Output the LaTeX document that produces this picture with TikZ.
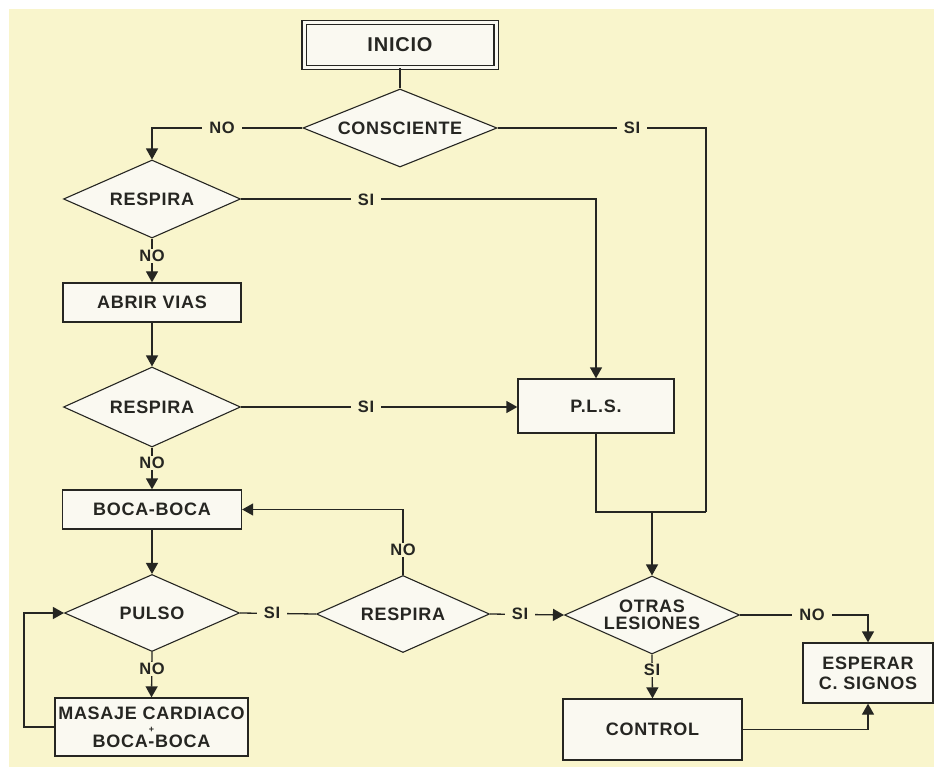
\documentclass[tikz,border=0pt]{standalone}
\usepackage{fontspec}
\setmainfont[LetterSpace=4]{Liberation Sans}
\usetikzlibrary{arrows.meta,shapes.geometric}
\definecolor{bg}{RGB}{249,245,204}
\definecolor{ink}{RGB}{38,38,34}
\definecolor{boxfill}{RGB}{250,249,241}
\begin{document}
\begin{tikzpicture}[x=1pt,y=-1pt,
  base/.style={draw=ink, line width=1.3pt, fill=boxfill, text=ink,
    font=\fontsize{18}{20}\selectfont\bfseries, inner sep=0pt, align=center},
  box/.style={base, rectangle},
  dia/.style={base, diamond, aspect=2.2, line width=1.1pt},
  con/.style={draw=ink, line width=1.3pt},
  arr/.style={con, -{Triangle[width=12pt,length=11pt]}},
  lab/.style={fill=bg, text=ink, font=\fontsize{16.5}{18}\selectfont\bfseries,
    inner xsep=7pt, inner ysep=1pt}]
\useasboundingbox (0,0) rectangle (934,767);
\fill[white] (0,0) rectangle (934,767);
\fill[bg] (9,9) rectangle (934,767);

% nodes
\node[box, double=boxfill, double distance=3pt, line width=1.1pt,
      minimum width=192pt, minimum height=45pt,
      font=\fontsize{20}{22}\selectfont\bfseries] (inicio) at (400,45) {INICIO};
\node[dia, minimum width=194pt, minimum height=78pt] (consc) at (400,128) {CONSCIENTE};
\node[dia, minimum width=177pt, minimum height=78pt] (resp1) at (152,199) {RESPIRA};
\node[box, minimum width=178pt, minimum height=39pt] (abrir) at (152,302.5) {ABRIR VIAS};
\node[dia, minimum width=177pt, minimum height=80pt] (resp2) at (152,407) {RESPIRA};
\node[box, minimum width=156pt, minimum height=54pt] (pls) at (596,406) {P.L.S.};
\node[box, minimum width=179pt, minimum height=39pt] (boca) at (152,509.5) {BOCA-BOCA};
\node[dia, minimum width=175pt, minimum height=77pt] (pulso) at (152,613) {PULSO};
\node[dia, minimum width=173pt, minimum height=77pt] (resp3) at (403,614) {RESPIRA};
\node[dia, minimum width=175pt, minimum height=78pt] (otras) at (652,615) {OTRAS\\[-3pt]LESIONES};
\node[box, minimum width=193pt, minimum height=58pt] (masaje) at (151.5,727) {MASAJE CARDIACO\\[-7pt]{\fontsize{9}{9}\selectfont +}\\[-5pt]BOCA-BOCA};
\node[box, minimum width=130pt, minimum height=60pt] (esperar) at (868,673) {ESPERAR\\C. SIGNOS};
\node[box, minimum width=179pt, minimum height=61pt] (control) at (652.5,729.5) {CONTROL};

% helper coordinates
\coordinate (rj) at (706,512);
\coordinate (mj) at (otras.north |- rj);
\coordinate (lp) at (24,727);

% connectors
\draw[con] (inicio.south) -- (consc.north);
\draw[arr] (consc.west) -| (resp1.north);
\draw[con] (consc.east) -| (rj);
\draw[con] (pls.south) |- (rj);
\draw[arr] (mj) -- (otras.north);
\draw[arr] (resp1.east) -| (pls.north);
\draw[arr] (resp1.south) -- (abrir.north);
\draw[arr] (abrir.south) -- (resp2.north);
\draw[arr] (resp2.east) -- (resp2.east -| pls.west);
\draw[arr] (resp2.south) -- (boca.north);
\draw[arr] (boca.south) -- (pulso.north);
\draw[arr] (pulso.south) -- (masaje.north);
\draw[arr] (masaje.west |- lp) -- (lp) |- (pulso.west);
\draw[con] (pulso.east) -- (resp3.west);
\draw[arr] (resp3.north) |- (boca.east);
\draw[arr] (resp3.east) -- (otras.west);
\draw[arr] (otras.east) -| (esperar.north);
\draw[arr] (otras.south) -- (control.north);
\draw[arr] (control.east) -| (esperar.south);

% labels
\node[lab] (l1) at (222,128) {NO};
\node[lab] (l2) at (632,128) {SI};
\node[lab] (l3) at (366,200) {SI};
\node[lab, inner xsep=1pt] (l4) at (152,256) {NO};
\node[lab] (l5) at (366,407) {SI};
\node[lab, inner xsep=1pt] (l6) at (152,463) {NO};
\node[lab, inner xsep=1pt] (l7) at (152,669) {NO};
\node[lab] (l8) at (272,613) {SI};
\node[lab, inner xsep=1pt] (l9) at (403,550) {NO};
\node[lab] (l10) at (520,614) {SI};
\node[lab] (l11) at (812,615) {NO};
\node[lab, inner xsep=1pt] (l12) at (652,670) {SI};
\end{tikzpicture}
\end{document}
